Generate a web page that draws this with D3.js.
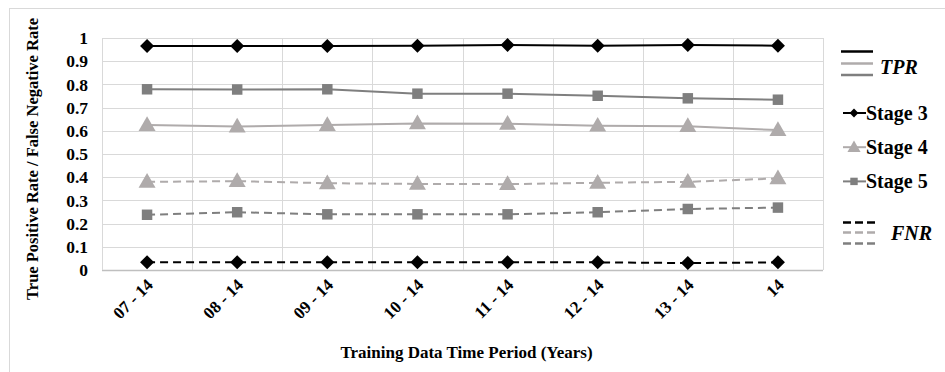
<!DOCTYPE html>
<html>
<head>
<meta charset="utf-8">
<script src="https://cdn.jsdelivr.net/npm/d3@7/dist/d3.min.js"></script>
<style>
  body { margin: 0; background: #fff; }
</style>
</head>
<body>
<svg id="chart" width="945" height="372"></svg>
<script>
// Chart data
const periods = ["07 - 14", "08 - 14", "09 - 14", "10 - 14", "11 - 14", "12 - 14", "13 - 14", "14"];
const yTicks = [0, 0.1, 0.2, 0.3, 0.4, 0.5, 0.6, 0.7, 0.8, 0.9, 1];

const tprStage3 = [0.965, 0.965, 0.965, 0.967, 0.97, 0.967, 0.97, 0.967];
const tprStage4 = [0.625, 0.618, 0.625, 0.632, 0.63, 0.622, 0.62, 0.603];
const tprStage5 = [0.779, 0.778, 0.779, 0.76, 0.76, 0.751, 0.74, 0.734];

const fnrStage3 = [0.033, 0.033, 0.033, 0.033, 0.033, 0.033, 0.03, 0.033];
const fnrStage4 = [0.38, 0.383, 0.374, 0.371, 0.37, 0.376, 0.38, 0.395];
const fnrStage5 = [0.238, 0.249, 0.24, 0.24, 0.24, 0.249, 0.263, 0.269];

const stages = ["Stage 3", "Stage 4", "Stage 5"];

const serif = '"Liberation Serif", "DejaVu Serif", "Times New Roman", Times, serif';

const svg = d3.select('#chart')
    .attr('font-family', serif)
    .attr('font-weight', 'bold');

const colors = { "Stage 3": "#000000", "Stage 4": "#afabab", "Stage 5": "#7f7f7f" };
const shapes = { "Stage 3": d3.symbolDiamond2, "Stage 4": d3.symbolTriangle, "Stage 5": d3.symbolSquare };
const sizes = { "Stage 3": 125, "Stage 4": 125, "Stage 5": 110 };

// outer frame
svg.append('rect')
    .attr('x', 9.5).attr('y', 8.5)
    .attr('width', 960).attr('height', 400)
    .attr('fill', 'none')
    .attr('stroke', '#d9d9d9');

const plot = { left: 102, right: 823, top: 38, bottom: 270 };

const x = d3.scaleBand().domain(periods).range([plot.left, plot.right]).padding(0);
const y = d3.scaleLinear().domain([0, 1]).range([plot.bottom, plot.top]);
const cx = d => x(d) + x.bandwidth() / 2;

// horizontal grid
svg.append('g')
    .selectAll('line')
    .data(yTicks)
    .join('line')
    .attr('x1', plot.left).attr('x2', plot.right)
    .attr('y1', d => Math.round(y(d)) + 0.5).attr('y2', d => Math.round(y(d)) + 0.5)
    .attr('stroke', d => d === 0 ? '#bfbfbf' : '#d9d9d9')
    .attr('stroke-width', d => d === 0 ? 1.5 : 1);

// vertical grid at category boundaries
const bounds = periods.map(p => x(p)).concat([plot.right]);
svg.append('g')
    .selectAll('line')
    .data(bounds)
    .join('line')
    .attr('x1', d => Math.round(d) + 0.5).attr('x2', d => Math.round(d) + 0.5)
    .attr('y1', plot.top).attr('y2', plot.bottom)
    .attr('stroke', '#d9d9d9');

// y tick labels
svg.append('g')
    .selectAll('text')
    .data(yTicks)
    .join('text')
    .attr('x', 88)
    .attr('y', d => y(d))
    .attr('dy', '0.35em')
    .attr('text-anchor', 'end')
    .attr('font-size', 17.5)
    .text(d => d3.format('~g')(d));

// y title
svg.append('text')
    .attr('transform', `translate(38, 159) rotate(-90)`)
    .attr('text-anchor', 'middle')
    .attr('font-size', 16.5)
    .text('True Positive Rate / False Negative Rate');

// x tick labels
svg.append('g')
    .selectAll('text')
    .data(periods)
    .join('text')
    .attr('transform', d => `translate(${cx(d) + 7}, 286) rotate(-45)`)
    .attr('text-anchor', 'end')
    .attr('font-size', 17)
    .text(d => d);

// x title
svg.append('text')
    .attr('x', (plot.left + plot.right) / 2 + 4)
    .attr('y', 358)
    .attr('text-anchor', 'middle')
    .attr('font-size', 17)
    .text('Training Data Time Period (Years)');

// series
const series = [
    { stage: "Stage 3", kind: "fnr", values: fnrStage3 },
    { stage: "Stage 5", kind: "fnr", values: fnrStage5 },
    { stage: "Stage 4", kind: "fnr", values: fnrStage4 },
    { stage: "Stage 5", kind: "tpr", values: tprStage5 },
    { stage: "Stage 4", kind: "tpr", values: tprStage4 },
    { stage: "Stage 3", kind: "tpr", values: tprStage3 }
];

const line = d3.line().x((d, i) => cx(periods[i])).y(d => y(d));

series.forEach(s => {
    svg.append('path')
        .datum(s.values)
        .attr('d', line)
        .attr('fill', 'none')
        .attr('stroke', colors[s.stage])
        .attr('stroke-width', 2)
        .attr('stroke-dasharray', s.kind === 'fnr' ? '8,5' : null);

    svg.append('g')
        .selectAll('path')
        .data(s.values)
        .join('path')
        .attr('transform', (d, i) => `translate(${cx(periods[i])}, ${y(d) + (s.stage === 'Stage 4' ? 1 : 0)})`)
        .attr('d', d3.symbol().type(shapes[s.stage]).size(sizes[s.stage]))
        .attr('fill', colors[s.stage]);
});

// legend
const legend = svg.append('g');
const lx1 = 841, lx2 = 873;

// TPR group of solid lines
[51.5, 63.5, 75].forEach((ly, i) => {
    legend.append('line')
        .attr('x1', lx1).attr('x2', lx2)
        .attr('y1', ly).attr('y2', ly)
        .attr('stroke', colors[stages[i]])
        .attr('stroke-width', 2.5);
});
legend.append('text')
    .attr('x', 880).attr('y', 74)
    .attr('font-size', 20)
    .attr('font-style', 'italic')
    .text('TPR');

// stage entries
stages.forEach((st, i) => {
    const ly = 113 + i * 34.2;
    legend.append('line')
        .attr('x1', 843).attr('x2', 866)
        .attr('y1', ly).attr('y2', ly)
        .attr('stroke', colors[st])
        .attr('stroke-width', 2);
    legend.append('path')
        .attr('transform', `translate(854, ${ly + (st === 'Stage 4' ? 1 : 0)})`)
        .attr('d', d3.symbol().type(shapes[st]).size(st === 'Stage 4' ? 75 : (st === 'Stage 3' ? 50 : 55)))
        .attr('fill', colors[st]);
    legend.append('text')
        .attr('x', 866).attr('y', ly)
        .attr('dy', '0.35em')
        .attr('font-size', 20)
        .text(st);
});

// FNR group of dashed lines
[222.5, 232.5, 243.5].forEach((ly, i) => {
    legend.append('line')
        .attr('x1', lx1 + 2).attr('x2', lx2 + 3)
        .attr('y1', ly).attr('y2', ly)
        .attr('stroke', colors[stages[i]])
        .attr('stroke-width', 2.5)
        .attr('stroke-dasharray', '8,4');
});
legend.append('text')
    .attr('x', 891).attr('y', 240)
    .attr('font-size', 20)
    .attr('font-style', 'italic')
    .text('FNR');
</script>
</body>
</html>
